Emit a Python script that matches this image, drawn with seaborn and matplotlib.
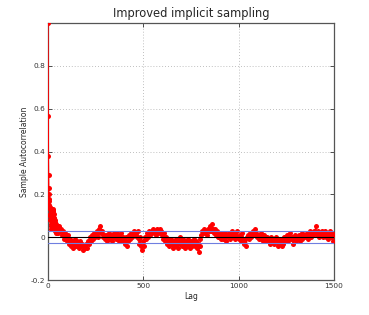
import seaborn as sns
import matplotlib.pyplot as plt
import numpy as np
import pandas as pd
from matplotlib.ticker import FormatStrFormatter

# sample autocorrelation, lags 0..49 one by one
acf_head = [1.0, 0.565, 0.38, 0.29, 0.23, 0.2, 0.18, 0.15, 0.17, 0.13,
            0.10, 0.14, 0.08, 0.11, 0.06, 0.09, 0.05, 0.08, 0.04, 0.07,
            0.05, 0.09, 0.06, 0.10, 0.08, 0.12, 0.10, 0.13, 0.11, 0.12,
            0.09, 0.11, 0.07, 0.09, 0.05, 0.08, 0.04, 0.06, 0.03, 0.07,
            0.04, 0.05, 0.02, 0.06, 0.03, 0.05, 0.02, 0.04, 0.03, 0.05]

# lags 50..1500, read every 5 lags
acf_tail = [0.04, 0.02, 0.05, 0.03, 0.04, 0.01, 0.03, -0.01, 0.02, 0.00,
            -0.02, 0.01, -0.03, -0.01, -0.04, -0.02, -0.05, -0.03, -0.01, -0.04,
            -0.02, -0.04, -0.03, -0.05, -0.02, -0.04, -0.03, -0.06, -0.04, -0.05,
            -0.03, -0.05, -0.02, -0.03, 0.00, -0.02, 0.01, -0.01, 0.02, 0.00,
            0.01, 0.03, 0.00, 0.02, 0.04, 0.05, 0.02, 0.03, 0.00, 0.01,
            -0.01, 0.01, -0.02, 0.00, 0.02, -0.01, 0.01, -0.02, 0.00, 0.02,
            0.01, -0.01, 0.02, 0.00, -0.02, 0.01, -0.01, 0.02, -0.02, 0.00,
            -0.01, -0.03, 0.00, -0.04, -0.02, 0.01, -0.01, 0.02, 0.00, 0.01,
            0.03, 0.01, 0.02, 0.00, 0.03, -0.01, -0.03, 0.00, -0.04, -0.06,
            -0.02, -0.04, 0.00, -0.01, 0.02, 0.00, 0.03, 0.01, 0.02, 0.03,
            0.04, 0.02, 0.03, 0.01, 0.04, 0.02, 0.03, 0.04, 0.02, 0.03,
            0.01, -0.01, 0.02, -0.02, 0.00, -0.03, -0.01, -0.04, -0.02, -0.01,
            -0.03, -0.05, -0.02, -0.04, -0.01, -0.03, -0.05, -0.02, 0.00, -0.03,
            -0.02, -0.04, -0.01, -0.03, -0.05, -0.02, -0.04, -0.01, -0.03, -0.05,
            -0.02, -0.04, -0.03, -0.01, -0.04, -0.02, -0.05, -0.03, -0.07, -0.04,
            -0.01, 0.01, 0.03, 0.02, 0.04, 0.02, 0.03, 0.01, 0.04, 0.03,
            0.05, 0.03, 0.06, 0.04, 0.02, 0.04, 0.01, 0.03, 0.00, 0.02,
            0.00, -0.01, 0.01, 0.02, -0.01, 0.00, 0.02, -0.02, 0.01, 0.00,
            0.02, -0.01, 0.01, 0.03, 0.00, 0.02, -0.01, 0.01, 0.03, 0.00,
            -0.01, 0.01, -0.02, 0.00, 0.02, -0.01, -0.03, -0.01, -0.04, 0.00,
            0.01, -0.01, 0.02, 0.00, 0.01, 0.03, 0.01, 0.04, 0.02, 0.00,
            0.01, -0.01, 0.00, 0.02, -0.01, 0.00, -0.02, 0.01, -0.01, -0.02,
            0.00, -0.02, -0.01, -0.03, 0.00, -0.02, -0.01, -0.03, -0.02, 0.00,
            -0.02, -0.04, -0.01, -0.03, -0.02, -0.04, -0.01, -0.03, 0.00, -0.02,
            -0.01, 0.01, -0.02, 0.00, 0.02, -0.01, 0.00, -0.03, -0.01, 0.01,
            -0.02, 0.00, -0.01, 0.01, -0.02, 0.00, 0.02, -0.01, 0.01, 0.00,
            0.01, 0.00, 0.02, -0.01, 0.01, 0.03, 0.00, 0.02, 0.01, 0.03,
            0.02, 0.05, 0.01, 0.03, 0.00, 0.02, 0.01, 0.03, 0.00, 0.02,
            0.01, 0.03, 0.00, 0.02, -0.01, 0.01, 0.03, 0.00, 0.02, -0.02,
            0.01]

conf_bound = 0.027
yticks = [-0.2, 0, 0.2, 0.4, 0.6, 0.8]
xticks = [0, 500, 1000, 1500]

lags = np.concatenate([np.arange(0, 50), np.arange(50, 1501, 5)])
df = pd.DataFrame({"Lag": lags, "acf": acf_head + acf_tail})

sns.set_style("ticks")
plt.rcParams['font.family'] = ['DejaVu Sans']

fig = plt.figure(figsize=(3.69, 3.15), dpi=100)
ax = fig.add_axes([0.130, 0.111, 0.775, 0.816])

sns.lineplot(data=df, x="Lag", y="acf", ax=ax, color="red", linewidth=1.0,
             marker="o", markersize=3.6, markeredgewidth=0, zorder=3)

ax.axhline(0, color="black", linewidth=0.8, zorder=4)
ax.axhline(conf_bound, color="#6f7fe0", linewidth=0.8, zorder=4)
ax.axhline(-conf_bound, color="#6f7fe0", linewidth=0.8, zorder=4)

ax.set_xlim(0, 1500)
ax.set_ylim(-0.2, 1.0)
ax.set_xticks(xticks)
ax.set_yticks(yticks)
ax.yaxis.set_major_formatter(FormatStrFormatter('%g'))
ax.grid(True, linestyle=(0, (1, 2.5)), color="#aaaaaa", linewidth=0.6)

ax.tick_params(direction="in", length=3, width=0.6, labelsize=5.3,
               top=True, right=True, colors="#333333", pad=2)
for sp in ax.spines.values():
    sp.set_color("#555555")
    sp.set_linewidth(0.9)

ax.set_xlabel("Lag", fontsize=5.5, labelpad=2)
ax.set_ylabel("Sample Autocorrelation", fontsize=5.5, labelpad=1)
ax.set_title("Improved implicit sampling", fontsize=8.3, pad=4)

fig.savefig("out.png", dpi=100)
